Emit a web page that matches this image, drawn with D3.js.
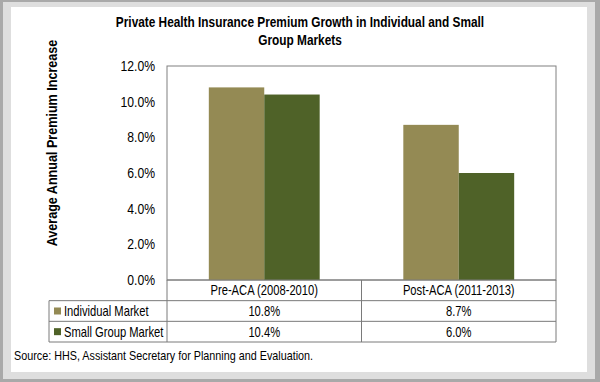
<!DOCTYPE html>
<html>
<head>
<meta charset="utf-8">
<script src="https://cdn.jsdelivr.net/npm/d3@7"></script>
<style>
  body { margin: 0; background: #fff; }
  text { font-family: "Liberation Sans", Arial, sans-serif; fill: #000; }
</style>
</head>
<body>
<script>
// Data
var categories = ["Pre-ACA (2008-2010)", "Post-ACA (2011-2013)"];
var seriesNames = ["Individual Market", "Small Group Market"];
var individualValues = [10.8, 8.7];
var smallGroupValues = [10.4, 6.0];
var yTicks = [0, 2, 4, 6, 8, 10, 12];
var colors = ["#948A54", "#4F6228"];

var width = 600, height = 382;

var svg = d3.select("body").append("svg")
  .attr("width", width)
  .attr("height", height);

// The original uses a narrow font, so text is squeezed sideways.
function addText(px, py, str, size, k, anchor, bold, rotate) {
  var t = "translate(" + px + "," + py + ")" + (rotate ? " rotate(" + rotate + ")" : "") + " scale(" + k + ",1)";
  return svg.append("text")
    .attr("transform", t)
    .attr("text-anchor", anchor || "start")
    .style("font-size", size + "px")
    .style("font-weight", bold ? "bold" : "normal")
    .text(str);
}

// Frame round the picture
svg.append("rect").attr("x", 0).attr("y", 0).attr("width", width).attr("height", height)
  .attr("fill", "#a9a9a9");
svg.append("rect").attr("x", 3).attr("y", 2).attr("width", 592).attr("height", 377)
  .attr("fill", "#dedede");
svg.append("rect").attr("x", 11).attr("y", 7).attr("width", 576).attr("height", 365)
  .attr("fill", "#fff");

// Title
addText(300, 27, "Private Health Insurance Premium Growth in Individual and Small", 15, 0.79, "middle", true);
addText(300, 45, "Group Markets", 15, 0.79, "middle", true);

// Scales
var plotLeft = 167, plotRight = 556, plotTop = 66, plotBottom = 280;

var x = d3.scaleBand().domain(categories).range([plotLeft, plotRight]);
var x1 = d3.scaleBand().domain(seriesNames)
  .range([x.bandwidth() * 0.215, x.bandwidth() * 0.785]);
var y = d3.scaleLinear().domain([0, 12]).range([plotBottom, plotTop]);

var rows = ["cat"].concat(seriesNames);
var rowScale = d3.scaleBand().domain(rows).range([plotBottom, 342]);
var tableLeft = 49;

// Plot area border
svg.append("rect").attr("x", plotLeft).attr("y", plotTop)
  .attr("width", plotRight - plotLeft).attr("height", plotBottom - plotTop)
  .attr("fill", "none").attr("stroke", "#808080").attr("stroke-width", 1);

// Bars
var data = categories.map(function (c, i) {
  return { cat: c, values: [individualValues[i], smallGroupValues[i]] };
});

var groups = svg.selectAll(".group").data(data).enter().append("g")
  .attr("transform", function (d) { return "translate(" + x(d.cat) + ",0)"; });

groups.selectAll("rect").data(function (d) {
  return d.values.map(function (v, j) { return { name: seriesNames[j], value: v, j: j }; });
}).enter().append("rect")
  .attr("x", function (d) { return x1(d.name); })
  .attr("width", x1.bandwidth())
  .attr("y", function (d) { return y(d.value); })
  .attr("height", function (d) { return y(0) - y(d.value); })
  .attr("fill", function (d) { return colors[d.j]; });

// Y axis labels
var tickK = 0.87;
var yAxis = svg.append("g").attr("transform", "translate(" + plotLeft + ",0)")
  .call(d3.axisLeft(y).tickValues(yTicks).tickSize(0).tickPadding(12)
    .tickFormat(function (d) { return d.toFixed(1) + "%"; }));
yAxis.select(".domain").remove();
yAxis.selectAll("text")
  .style("font-size", "14px")
  .style("font-family", "'Liberation Sans', Arial, sans-serif")
  .attr("x", -12 / tickK)
  .attr("transform", "scale(" + tickK + ",1)");

addText(57, (plotTop + plotBottom) / 2 - 30, "Average Annual Premium Increase", 14, 0.9, "middle", true, -90);

// Data table
var lineColor = "#7a7a7a";
var tableBottom = rowScale.range()[1];

// horizontal lines
rows.forEach(function (r) {
  var yy = rowScale(r) + rowScale.bandwidth();
  svg.append("line").attr("x1", tableLeft).attr("x2", plotRight)
    .attr("y1", yy).attr("y2", yy).attr("stroke", lineColor);
});
svg.append("line").attr("x1", plotLeft).attr("x2", plotRight)
  .attr("y1", plotBottom).attr("y2", plotBottom).attr("stroke", lineColor);

// vertical lines
svg.append("line").attr("x1", tableLeft).attr("x2", tableLeft)
  .attr("y1", rowScale(seriesNames[0])).attr("y2", tableBottom).attr("stroke", lineColor);
categories.forEach(function (c) {
  svg.append("line").attr("x1", x(c)).attr("x2", x(c))
    .attr("y1", plotBottom).attr("y2", tableBottom).attr("stroke", lineColor);
});
svg.append("line").attr("x1", plotRight).attr("x2", plotRight)
  .attr("y1", plotBottom).attr("y2", tableBottom).attr("stroke", lineColor);

var tableK = 0.8;

// category labels
categories.forEach(function (c) {
  addText(x(c) + x.bandwidth() / 2, rowScale("cat") + rowScale.bandwidth() / 2 + 5, c, 14, tableK, "middle");
});

// legend cells and values
var seriesValues = [individualValues, smallGroupValues];
seriesNames.forEach(function (name, j) {
  var cy = rowScale(name) + rowScale.bandwidth() / 2;
  svg.append("rect").attr("x", tableLeft + 5).attr("y", cy - 3.5)
    .attr("width", 7).attr("height", 7).attr("fill", colors[j]);
  addText(tableLeft + 15, cy + 5, name, 14, tableK, "start");
  categories.forEach(function (c, i) {
    addText(x(c) + x.bandwidth() / 2, cy + 5, seriesValues[j][i].toFixed(1) + "%", 14, tableK, "middle");
  });
});

// Source
addText(14, 360, "Source: HHS, Assistant Secretary for Planning and Evaluation.", 13, 0.83, "start");
</script>
</body>
</html>
